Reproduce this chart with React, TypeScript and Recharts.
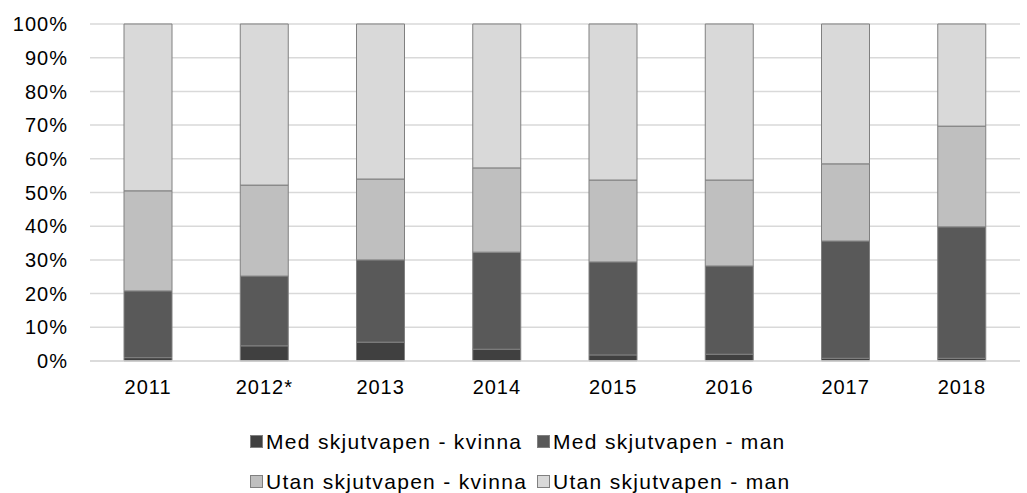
import { BarChart, Bar, XAxis, YAxis, CartesianGrid } from 'recharts'

const years = ['2011', '2012*', '2013', '2014', '2015', '2016', '2017', '2018']
const medKvinna = [1.0, 4.5, 5.6, 3.5, 1.8, 2.0, 0.8, 0.8]
const medMan = [19.8, 20.7, 24.4, 28.8, 27.6, 26.2, 34.8, 39.0]
const utanKvinna = [29.7, 27.0, 24.0, 25.0, 24.3, 25.5, 22.9, 29.9]
const utanMan = [49.5, 47.8, 46.0, 42.7, 46.3, 46.3, 41.5, 30.3]
const yTicks = [0, 10, 20, 30, 40, 50, 60, 70, 80, 90, 100]

const series = [
  { key: 'medKvinna', name: 'Med skjutvapen - kvinna', color: '#404040' },
  { key: 'medMan', name: 'Med skjutvapen - man', color: '#595959' },
  { key: 'utanKvinna', name: 'Utan skjutvapen - kvinna', color: '#bfbfbf' },
  { key: 'utanMan', name: 'Utan skjutvapen - man', color: '#d9d9d9' },
]

const data = years.map((year, i) => ({
  year,
  medKvinna: medKvinna[i],
  medMan: medMan[i],
  utanKvinna: utanKvinna[i],
  utanMan: utanMan[i],
}))

const font = '"Liberation Sans", Arial, sans-serif'
const tickStyle = { fontSize: 20, fill: '#000', fontFamily: font, letterSpacing: 1 }

function LegendItem({ name, color }: { name: string; color: string }) {
  return (
    <div style={{ display: 'flex', alignItems: 'center' }}>
      <span
        style={{
          width: 11,
          height: 11,
          background: color,
          border: '1px solid #808080',
          marginRight: 3,
          display: 'inline-block',
        }}
      />
      <span>{name}</span>
    </div>
  )
}

export default function App() {
  return (
    <div style={{ position: 'absolute', left: 0, top: 0, width: 1027, height: 493, background: '#fff' }}>
      <BarChart
        width={1027}
        height={493}
        data={data}
        margin={{ top: 24, right: 7, left: 0, bottom: 102 }}
        barSize={48}
      >
        <CartesianGrid vertical={false} stroke="#d9d9d9" strokeWidth={1.5} />
        <XAxis
          dataKey="year"
          height={30}
          tick={tickStyle}
          tickLine={false}
          tickMargin={13}
          axisLine={{ stroke: '#d9d9d9', strokeWidth: 1.5 }}
        />
        <YAxis
          width={90}
          domain={[0, 100]}
          ticks={yTicks}
          tickFormatter={v => `${v}%`}
          tick={tickStyle}
          tickLine={false}
          tickMargin={16}
          axisLine={false}
          interval={0}
        />
        {series.map(s => (
          <Bar
            key={s.key}
            dataKey={s.key}
            name={s.name}
            stackId="a"
            fill={s.color}
            stroke="#808080"
            strokeWidth={1}
            isAnimationActive={false}
          />
        ))}
      </BarChart>
      <div
        style={{
          position: 'absolute',
          left: 250,
          top: 429,
          display: 'grid',
          gridTemplateColumns: '287px auto',
          rowGap: 15,
          fontFamily: font,
          fontSize: 21,
          letterSpacing: 1.3,
          lineHeight: '25px',
          color: '#000',
        }}
      >
        {series.map(s => (
          <LegendItem key={s.key} name={s.name} color={s.color} />
        ))}
      </div>
    </div>
  )
}
